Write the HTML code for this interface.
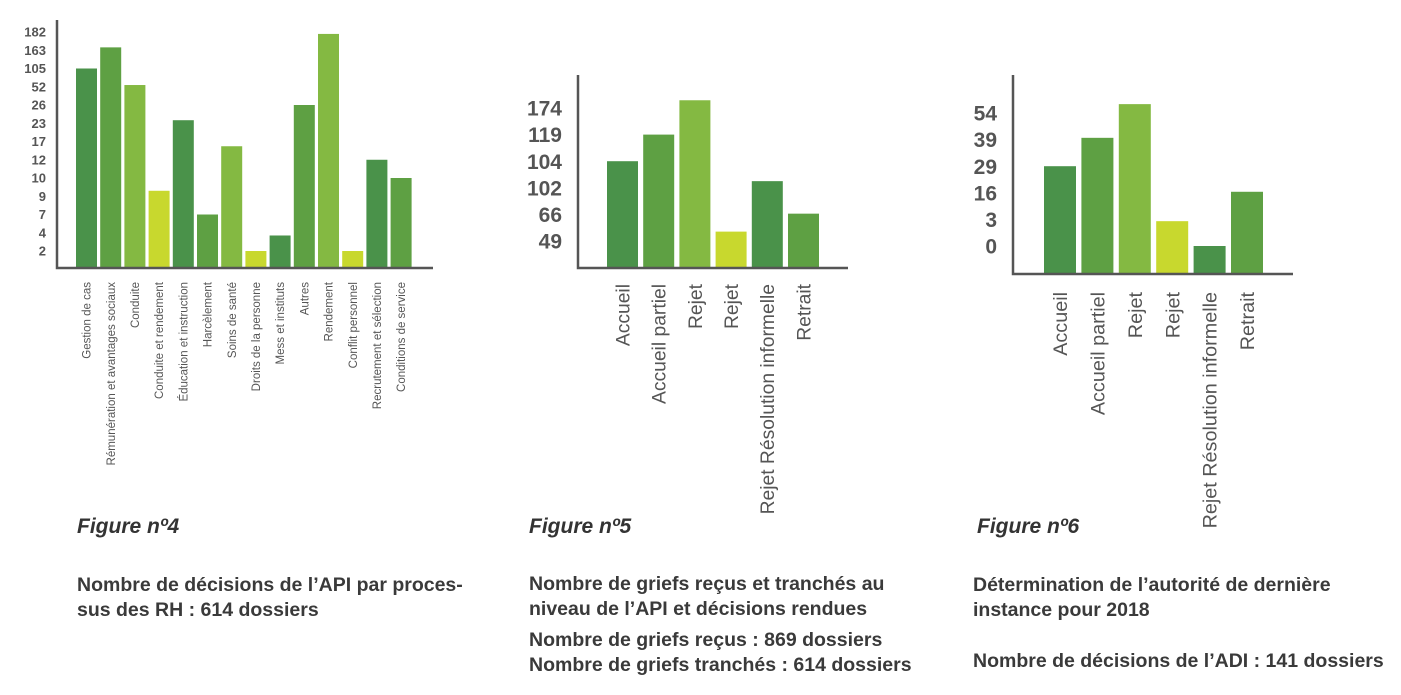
<!DOCTYPE html>
<html><head><meta charset="utf-8">
<style>
body{margin:0;background:#fff;width:1401px;height:695px;overflow:hidden;font-family:"Liberation Sans",sans-serif}
svg{position:absolute;left:0;top:0}
.tick{fill:#555;font-weight:bold;text-anchor:end}
.xl{fill:#555;text-anchor:end}
.fig{fill:#333;font-weight:bold;font-style:italic;font-size:21px}
.desc{fill:#3a3a3a;font-weight:bold;font-size:19.5px}
</style></head>
<body>
<svg id="s" width="1401" height="695"></svg>
<script>
// Chart 1 data
const c1Categories=["Gestion de cas","Rémunération et avantages sociaux","Conduite","Conduite et rendement","Éducation et instruction","Harcèlement","Soins de santé","Droits de la personne","Mess et instituts","Autres","Rendement","Conflit personnel","Recrutement et sélection","Conditions de service"];
const c1Values=[105,166,57,9.3,23.5,7,15.7,2,3.7,26,180,2,12,10];
const c1Ticks=[182,163,105,52,26,23,17,12,10,9,7,4,2];
// Chart 2 data
const c2Categories=["Accueil","Accueil partiel","Rejet","Rejet","Rejet Résolution informelle","Retrait"];
const c2Values=[104,119,190,55,102.5,67];
const c2Ticks=[174,119,104,102,66,49];
// Chart 3 data
const c3Categories=["Accueil","Accueil partiel","Rejet","Rejet","Rejet Résolution informelle","Retrait"];
const c3Values=[29,40,59,2.8,0,16.5];
const c3Ticks=[54,39,29,16,3,0];

const NS="http://www.w3.org/2000/svg";
const svg=document.getElementById('s');
const colors=["#4a924a","#5ea043","#84b942","#c8d82e"];
function el(tag,attrs,parent){const e=document.createElementNS(NS,tag);for(const k in attrs)e.setAttribute(k,attrs[k]);(parent||svg).appendChild(e);return e;}

function makeScale(ticks,topY,step,baseY,baseVal){
  const pts=ticks.map((t,i)=>[t,topY+i*step]);
  pts.push([baseVal,baseY]);
  pts.sort((a,b)=>a[0]-b[0]);
  return function(v){
    if(v<=pts[0][0])return pts[0][1];
    for(let i=1;i<pts.length;i++){
      if(v<=pts[i][0]){const a=pts[i-1],b=pts[i];return a[1]+(v-a[0])/(b[0]-a[0])*(b[1]-a[1]);}
    }
    const a=pts[pts.length-2],b=pts[pts.length-1];
    return b[1]+(v-b[0])/(b[0]-a[0])*(b[1]-a[1]);
  };
}

function chart(cfg){
  const g=el('g',{});
  
  
  const y=makeScale(cfg.ticks,cfg.tickTop,cfg.tickStep,cfg.baseY,cfg.baseVal);
  cfg.ticks.forEach((t,i)=>{
    const tx=el('text',{x:cfg.tickX,y:cfg.tickTop+i*cfg.tickStep+cfg.fs*0.36,class:'tick','font-size':cfg.fs},g);
    tx.textContent=t;
    
    
  });
  cfg.values.forEach((v,i)=>{
    const x=cfg.x0+i*cfg.pitch;
    const top=y(v);
    const r=el('rect',{x:x,y:top,width:cfg.bw,height:cfg.baseY-top,fill:colors[i%4]},g);
    
    
    const cx=x+cfg.bw/2+cfg.lfs*0.36;
    const t=el('text',{x:cx,y:cfg.labelTop,class:'xl','font-size':cfg.lfs,transform:`rotate(-90 ${cx} ${cfg.labelTop})`},g);
    t.textContent=cfg.cats[i];
    
    
  });
  const ax=el('path',{d:`M${cfg.axisX} ${cfg.axisTop} V${cfg.baseY} H${cfg.axisRight}`,stroke:'#555',fill:'none','stroke-width':2.5},g);
  
  
}

chart({name:'chart-figure-4',cats:c1Categories,values:c1Values,ticks:c1Ticks,tickTop:32,tickStep:18.25,baseY:268,baseVal:0,tickX:46,fs:13,
  x0:76,pitch:24.2,bw:21,labelTop:282,lfs:11.5,axisX:57,axisTop:20,axisRight:433});
chart({name:'chart-figure-5',cats:c2Categories,values:c2Values,ticks:c2Ticks,tickTop:108,tickStep:26.6,baseY:268,baseVal:20,tickX:562,fs:21,
  x0:607,pitch:36.2,bw:31,labelTop:284,lfs:19.3,axisX:578,axisTop:75,axisRight:848});
chart({name:'chart-figure-6',cats:c3Categories,values:c3Values,ticks:c3Ticks,tickTop:113,tickStep:26.6,baseY:274,baseVal:-3,tickX:997,fs:21,
  x0:1044,pitch:37.4,bw:32,labelTop:292,lfs:19.8,axisX:1013,axisTop:75,axisRight:1293});

function txt(x,yy,cls,s,name){const t=el('text',{x:x,y:yy,class:cls});t.textContent=s;}
txt(77,533,'fig','Figure nº4','figure-4-title');
txt(529,533,'fig','Figure nº5','figure-5-title');
txt(977,533,'fig','Figure nº6','figure-6-title');
txt(77,591,'desc','Nombre de décisions de l’API par proces-','figure-4-caption');
txt(77,616,'desc','sus des RH : 614 dossiers','figure-4-caption');
txt(529,590,'desc','Nombre de griefs reçus et tranchés au','figure-5-caption');
txt(529,615,'desc','niveau de l’API et décisions rendues','figure-5-caption');
txt(529,646,'desc','Nombre de griefs reçus : 869 dossiers','figure-5-received');
txt(529,671,'desc','Nombre de griefs tranchés : 614 dossiers','figure-5-decided');
txt(973,591,'desc','Détermination de l’autorité de dernière','figure-6-caption');
txt(973,616,'desc','instance pour 2018','figure-6-caption');
txt(973,667,'desc','Nombre de décisions de l’ADI : 141 dossiers','figure-6-count');
</script>
</body></html>
